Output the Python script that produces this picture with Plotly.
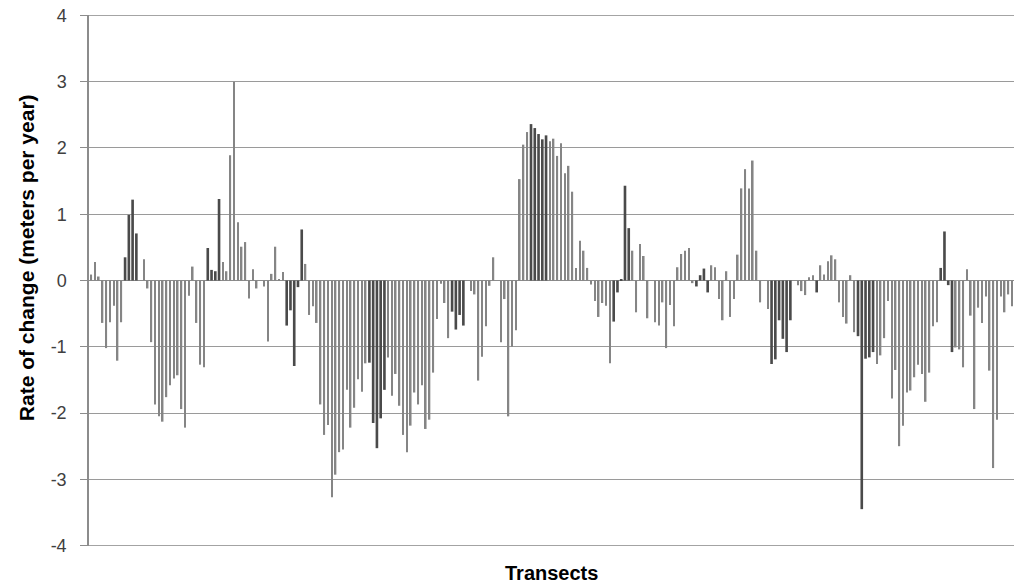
import plotly.graph_objects as go

values = [
    0.09, 0.28, 0.06, -0.64, -1.02, -0.63, -0.38, -1.21, -0.63, 0.35,
    0.99, 1.22, 0.71, 0.0, 0.32, -0.12, -0.93, -1.87, -2.05, -2.13,
    -1.76, -1.58, -1.48, -1.43, -1.94, -2.22, -0.23, 0.21, -0.64, -1.27,
    -1.31, 0.49, 0.16, 0.14, 1.23, 0.28, 0.14, 1.89, 3.0, 0.88,
    0.51, 0.58, -0.27, 0.17, -0.12, 0.0, -0.09, -0.92, 0.10, 0.51,
    0.02, 0.13, -0.68, -0.45, -1.29, -0.10, 0.77, 0.25, -0.52, -0.39,
    -0.64, -1.87, -2.33, -2.18, -3.27, -2.93, -2.59, -2.55, -1.65, -2.22,
    -1.92, -1.49, -1.68, -1.25, -1.24, -2.15, -2.53, -2.08, -1.65, -1.16,
    -1.74, -1.41, -1.89, -2.33, -2.59, -2.19, -1.69, -1.87, -1.58, -2.24,
    -2.10, -1.39, -0.58, -0.05, -0.34, -0.87, -0.47, -0.74, -0.52, -0.68,
    0.0, -0.16, -0.21, -1.51, -1.15, -0.69, -0.08, 0.35, 0.0, -0.93,
    -0.28, -2.05, -1.0, -0.75, 1.53, 2.05, 2.24, 2.36, 2.30, 2.21,
    2.13, 2.19, 2.10, 2.14, 1.88, 2.07, 1.62, 1.73, 1.34, 0.19,
    0.60, 0.45, 0.19, -0.06, -0.31, -0.55, -0.34, -0.38, -1.25, -0.62,
    -0.18, 0.02, 1.43, 0.79, 0.45, -0.48, 0.55, 0.37, -0.57, 0.0,
    -0.63, -0.68, -0.33, -1.02, -0.37, -0.69, 0.20, 0.40, 0.45, 0.49,
    -0.04, -0.09, 0.08, 0.18, -0.18, 0.23, 0.20, -0.28, -0.60, 0.14,
    -0.55, -0.28, 0.39, 1.39, 1.68, 1.39, 1.81, 0.45, -0.33, 0.0,
    -0.43, -1.26, -1.19, -0.60, -0.88, -1.08, -0.60, 0.0, -0.07, -0.16,
    -0.22, 0.05, 0.08, -0.18, 0.23, 0.09, 0.29, 0.38, 0.32, -0.33,
    -0.55, -0.65, 0.08, -0.78, -0.84, -3.45, -1.18, -1.16, -1.08, -1.26,
    -1.13, -0.87, -0.31, -1.78, -1.35, -2.50, -2.19, -1.69, -1.66, -1.46,
    -1.27, -1.41, -1.83, -1.39, -0.69, -0.63, 0.19, 0.74, -0.07, -1.08,
    -1.01, -1.04, -1.31, 0.17, -0.53, -1.94, -0.41, -0.64, -0.24, -1.36,
    -2.83, -2.10, -0.24, -0.48, -0.21, -0.39,
]

# transect group: "B" marks the darker-drawn transect clusters
dark_ranges = [(9, 12), (31, 34), (52, 56), (74, 78), (96, 99), (117, 121),
               (139, 143), (161, 164), (181, 186), (193, 193), (204, 208), (226, 229)]
group = ["A"] * len(values)
for a, b in dark_ranges:
    for i in range(a, b + 1):
        group[i] = "B"

y_ticks = [-4, -3, -2, -1, 0, 1, 2, 3, 4]
y_title = "Rate of change (meters per year)"
x_title = "Transects"

idx = list(range(len(values)))
xa = [i for i in idx if group[i] == "A"]
ya = [values[i] for i in xa]
xb = [i for i in idx if group[i] == "B"]
yb = [values[i] for i in xb]

fig = go.Figure()
fig.add_trace(go.Bar(x=xa, y=ya, width=0.42,
                     marker=dict(color="#858585", line=dict(width=0))))
fig.add_trace(go.Bar(x=xb, y=yb, width=0.7,
                     marker=dict(color="#4a4a4a", line=dict(width=0))))

grid_col = "#9a9a9a"
edge_shapes = [dict(type="line", xref="paper", yref="y", x0=0, x1=1, y0=v, y1=v,
                    line=dict(color=grid_col, width=1), layer="below")
               for v in (y_ticks[0], y_ticks[-1])]

fig.update_layout(
    width=1024, height=587,
    margin=dict(l=89, r=10, t=15, b=41, autoexpand=False),
    paper_bgcolor="white", plot_bgcolor="white",
    barmode="overlay", showlegend=False,
    font=dict(family="Liberation Sans, Arial, sans-serif", color="#404040"),
    xaxis=dict(range=[-0.6, 245.5], showticklabels=False, showgrid=False,
               zeroline=False, showline=False, ticks=""),
    yaxis=dict(range=[-4.006, 4.006], tickvals=y_ticks,
               ticktext=[str(v) for v in y_ticks],
               showgrid=True, gridcolor=grid_col, gridwidth=1,
               zeroline=True, zerolinecolor="#8c8c8c", zerolinewidth=1,
               showline=True, linecolor="#8c8c8c", linewidth=1.5,
               ticks="outside", ticklen=7, tickcolor="#8c8c8c",
               ticklabelstandoff=10, automargin=False,
               tickfont=dict(size=18, color="#404040")),
    shapes=edge_shapes,
    annotations=[
        dict(text="<b>" + y_title + "</b>", xref="paper", yref="paper",
             x=-0.0681, y=0.542, textangle=-90, showarrow=False,
             xanchor="center", yanchor="middle",
             font=dict(size=21, color="#000000")),
        dict(text="<b>" + x_title + "</b>", xref="paper", yref="paper",
             x=0.5, y=-0.0508, showarrow=False,
             xanchor="center", yanchor="middle",
             font=dict(size=20, color="#000000")),
    ],
)

fig.write_html("out.html", config={"displayModeBar": False},
               post_script="document.body.style.margin='0';document.body.style.overflow='hidden';")
